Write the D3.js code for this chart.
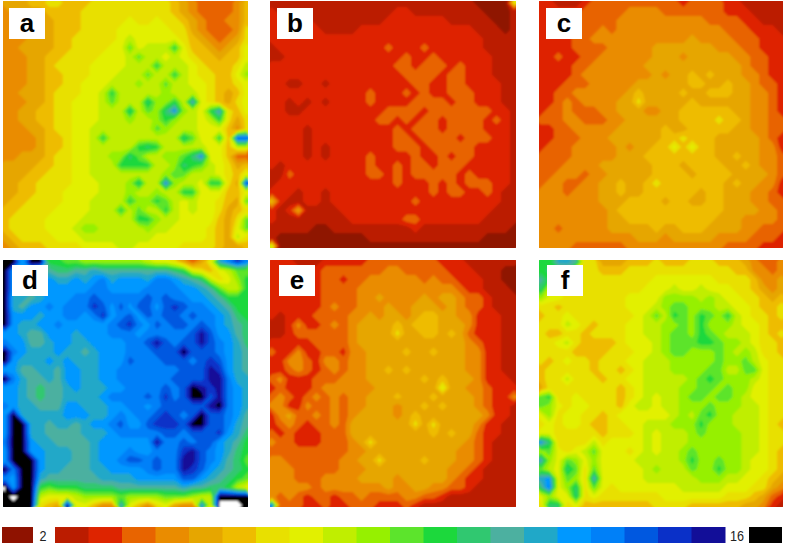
<!DOCTYPE html>
<html>
<head>
<meta charset="utf-8">
<script src="https://cdn.jsdelivr.net/npm/d3@7"></script>
<style>
  html, body { margin: 0; background: #fff; }
  svg { display: block; }
</style>
</head>
<body>
<div id="chart"></div>
<script>
// Legend levels, dark red (below 2) through black (above 16), then white for empty cells
const levelColors = ["#8f1200", "#bb1c00", "#de2400", "#e86400", "#ea8c00", "#e6a600", "#eebc00", "#e8e000",
  "#e2f000", "#c0ee00", "#96f000", "#5ce42c", "#1cd83c", "#30c870", "#4cb0a0", "#20a8c8",
  "#0098ff", "#0080f8", "#0058e0", "#0a30c8", "#120e98", "#000000", "#ffffff"];
const panelLabels = ["a", "b", "c", "d", "e", "f"];
const legendLabels = ["2", "16"];

const mapA = [
[5,5,5,6,6,7,7,6,6,6,7,7,7,7,7,7,7,7,7,6,5,4,3,3,3,3,4,6],
[4,5,5,5,5,6,6,6,6,7,7,7,7,7,7,7,7,7,7,6,5,4,3,3,3,3,4,6],
[4,4,5,5,5,5,6,6,6,7,7,7,7,7,8,7,7,8,7,7,6,5,4,3,3,4,4,6],
[4,4,4,5,5,5,6,6,6,7,7,7,7,8,8,8,8,8,8,7,7,5,4,3,3,3,4,7],
[4,4,4,5,5,5,6,6,7,7,7,7,7,8,9,8,8,8,8,8,7,6,5,4,3,4,5,7],
[4,4,5,5,5,5,6,6,7,7,7,7,8,8,11,8,9,9,9,12,8,6,6,5,4,5,6,8],
[4,4,4,5,5,6,6,7,7,7,7,8,8,8,9,11,9,9,8,9,8,7,6,6,5,6,6,8],
[4,4,4,5,5,6,7,7,7,7,8,8,8,8,9,9,9,12,9,9,9,8,7,6,6,6,7,9],
[4,4,4,5,5,6,6,7,7,7,8,8,8,9,9,9,11,9,9,12,9,8,7,7,6,6,8,10],
[4,4,4,5,5,6,6,7,7,8,8,8,9,9,9,10,9,9,11,9,9,8,8,7,6,6,7,8],
[4,4,5,5,5,6,7,7,7,8,8,9,12,9,9,9,9,9,10,9,9,9,8,7,6,5,6,8],
[4,4,4,5,5,6,7,7,8,8,8,9,11,9,9,9,13,10,10,12,9,15,8,7,6,5,7,8],
[4,4,5,5,6,6,7,7,8,8,8,9,9,9,13,9,11,10,13,16,10,9,8,12,15,7,6,8],
[4,4,5,5,6,6,7,7,8,8,8,9,9,9,10,9,9,10,12,10,9,9,8,9,12,7,5,7],
[4,4,4,5,5,6,7,7,8,8,9,9,9,9,9,9,9,11,10,9,9,9,8,8,8,6,4,7],
[4,4,4,4,5,6,6,7,8,8,9,12,9,9,9,9,9,9,9,9,13,11,8,8,12,6,18,18],
[4,4,4,4,5,6,6,7,8,8,9,9,9,9,9,12,13,12,9,9,9,9,9,8,8,6,9,9],
[4,4,5,5,5,6,7,7,8,8,9,9,10,10,13,11,9,9,10,10,11,13,16,8,8,6,3,3],
[5,5,5,5,6,6,7,7,8,8,9,9,9,12,12,12,12,9,9,10,13,12,11,9,8,7,5,6],
[5,5,5,6,6,7,7,7,8,8,9,9,9,9,9,9,9,9,10,11,11,9,9,9,8,7,6,8],
[5,5,6,6,7,7,7,7,8,8,8,9,9,9,10,13,9,9,16,10,9,9,8,12,12,7,5,19],
[5,5,6,6,7,7,7,8,8,8,8,9,9,9,10,9,9,10,9,9,12,12,8,8,8,6,6,8],
[5,6,6,7,7,7,7,8,8,8,9,9,9,9,12,10,10,12,11,9,8,9,8,8,7,6,5,11],
[6,6,7,7,7,7,8,8,8,8,9,9,9,12,9,11,9,9,12,9,8,9,8,8,7,5,6,7],
[6,7,7,7,7,8,8,8,8,9,9,9,9,9,9,12,12,10,9,9,8,8,8,8,6,5,7,11],
[6,7,7,7,7,8,8,8,9,10,10,9,9,9,9,9,10,9,9,8,8,8,8,7,6,5,8,11],
[5,6,7,7,7,7,8,8,8,9,9,9,9,9,9,9,9,8,8,8,8,8,8,7,6,5,9,7],
[4,5,6,6,6,7,7,7,7,8,8,8,8,9,9,8,8,8,8,8,7,7,7,7,6,5,5,6]
];
const mapB = [
[1,1,1,1,1,1,1,1,1,1,1,1,1,1,1,1,1,1,1,1,1,1,1,0,0,0,0,8],
[2,1,1,1,1,1,1,1,1,1,1,1,1,1,2,2,1,1,1,1,1,1,1,1,0,0,0,1],
[2,2,2,2,2,1,1,1,1,1,1,1,1,2,2,2,2,2,2,2,1,1,1,1,1,0,0,1],
[2,2,2,2,2,2,1,1,1,1,2,2,2,2,2,2,2,2,2,2,2,2,2,1,1,1,0,1],
[2,2,2,2,2,2,2,2,2,2,2,2,2,2,2,2,2,2,2,2,2,2,2,2,1,1,1,1],
[1,2,2,2,2,2,2,2,2,2,2,2,2,3,2,2,2,3,2,2,2,2,2,2,1,1,1,1],
[1,1,2,2,2,2,2,2,2,2,2,2,2,2,2,3,2,2,3,2,2,2,2,2,2,1,1,1],
[2,2,2,2,2,2,2,2,2,2,2,2,2,2,3,3,2,3,3,3,2,3,2,2,2,1,1,1],
[2,2,2,2,2,2,2,2,2,2,2,2,2,2,2,3,3,3,3,2,3,3,2,2,2,1,1,1],
[2,2,1,1,2,2,1,2,2,2,2,2,2,2,2,2,3,3,2,2,3,3,2,2,2,2,1,1],
[2,2,2,2,2,2,2,2,2,2,2,3,2,2,2,3,2,3,2,2,3,3,3,2,2,2,1,1],
[2,2,1,2,1,2,1,2,2,2,2,3,2,2,2,2,3,3,3,3,2,3,3,2,2,2,1,1],
[2,2,1,1,2,2,2,2,2,2,2,2,2,3,3,3,3,2,3,3,3,3,3,3,3,2,2,1],
[2,2,2,2,2,2,2,2,2,2,2,2,3,3,2,3,2,3,3,2,3,3,3,3,2,3,2,1],
[2,2,2,2,1,2,2,2,2,2,2,2,2,2,3,2,3,3,3,2,3,3,3,3,2,2,2,1],
[2,2,2,2,1,2,2,2,2,2,2,2,2,2,3,3,2,3,3,3,3,2,3,3,3,2,2,1],
[2,2,2,2,1,2,1,2,2,2,2,2,2,2,3,3,3,2,3,3,3,3,3,2,2,2,2,1],
[2,2,2,2,1,2,1,2,2,2,2,3,2,2,2,2,3,2,2,3,2,3,3,2,2,2,2,1],
[2,1,2,2,2,2,2,2,2,2,2,3,2,2,3,2,3,3,2,3,3,3,2,2,2,2,2,1],
[1,1,3,2,2,2,2,2,2,2,2,3,3,2,3,2,3,3,3,3,3,2,3,2,2,2,2,1],
[1,2,2,2,2,2,2,2,2,2,2,2,2,2,3,2,2,2,3,2,3,2,3,3,3,2,2,1],
[2,2,2,1,2,2,1,2,2,2,2,2,2,2,2,2,2,2,3,2,3,3,2,2,3,2,1,1],
[6,2,1,1,2,2,1,2,2,2,2,2,2,2,2,2,3,2,2,2,2,2,2,2,2,2,1,1],
[2,1,2,5,1,1,1,1,2,2,2,2,2,2,2,2,2,2,2,2,2,2,2,2,2,1,1,1],
[2,1,1,1,1,1,1,1,1,2,2,2,2,2,2,3,3,2,2,2,2,2,2,2,1,1,1,1],
[1,1,1,1,1,0,0,1,1,1,1,1,1,1,1,1,2,1,1,1,1,1,1,1,1,1,1,0],
[1,0,0,0,0,0,0,0,0,0,0,1,1,1,1,1,1,1,1,1,1,1,1,1,0,0,0,0],
[9,0,0,0,0,0,0,0,0,0,0,0,0,0,0,0,0,0,0,0,0,0,0,0,0,0,0,0]
];
const mapC = [
[2,2,1,1,1,2,3,3,3,3,3,3,3,3,3,3,2,3,3,3,3,2,2,1,1,1,1,1],
[2,2,2,2,2,3,3,3,3,3,4,4,4,4,3,3,3,3,3,3,3,2,2,2,1,1,1,1],
[2,2,2,3,3,3,3,3,3,4,4,4,4,4,4,4,4,4,4,3,3,3,3,2,2,1,1,1],
[2,2,2,3,3,3,3,4,3,4,4,4,4,4,4,4,4,4,4,4,4,3,3,3,2,2,2,1],
[2,2,2,2,3,3,4,4,4,4,4,4,4,4,4,4,4,5,4,4,4,4,3,3,3,2,2,2],
[2,2,2,2,3,3,3,3,4,4,4,4,4,5,5,5,5,5,5,5,4,4,4,3,3,2,2,2],
[2,2,3,2,2,3,3,4,4,4,4,4,4,5,5,5,4,5,5,5,5,5,4,4,3,3,2,2],
[2,2,2,2,3,3,4,4,4,4,4,4,5,5,5,5,5,5,5,5,5,5,5,4,3,3,2,2],
[2,2,2,2,3,4,4,4,4,4,4,4,4,5,4,5,5,6,5,6,5,5,5,4,4,3,2,2],
[2,2,2,3,3,3,4,4,4,4,4,5,5,5,5,5,5,6,6,5,5,6,5,5,4,3,3,2],
[2,2,3,3,4,4,4,4,4,4,5,6,5,5,5,5,6,5,5,6,6,6,5,5,4,4,3,2],
[2,2,3,4,3,4,4,4,4,5,5,7,5,5,5,5,5,6,5,5,5,5,5,5,4,4,3,2],
[2,3,3,4,3,3,3,4,4,5,5,5,4,4,5,5,6,6,6,6,6,6,5,5,4,4,3,2],
[3,3,3,4,4,3,3,3,4,4,5,5,5,5,5,5,6,6,6,6,7,6,6,5,4,4,3,3],
[2,2,3,3,4,4,4,4,4,5,5,5,5,5,6,5,5,6,6,6,6,6,5,5,4,4,3,3],
[2,2,3,3,3,4,4,4,5,5,5,5,5,5,6,6,7,6,6,6,5,5,5,5,5,4,3,2],
[2,3,3,3,4,4,4,4,4,5,4,5,5,6,6,8,6,8,6,6,5,5,5,5,5,4,4,2],
[3,3,3,3,4,4,4,4,4,5,5,5,6,6,6,6,6,6,6,6,5,5,6,5,5,4,4,3],
[3,3,3,4,4,4,4,5,5,5,5,5,5,6,6,6,5,6,6,6,6,5,5,6,5,4,4,3],
[3,3,4,4,4,3,4,4,5,5,5,5,5,6,6,6,6,5,6,6,6,6,5,5,5,5,4,3],
[3,4,4,3,3,4,4,5,5,6,5,5,6,7,6,6,6,6,6,6,6,5,6,5,5,4,4,2],
[4,4,4,3,4,4,4,5,5,6,5,5,6,6,6,6,6,6,5,6,6,5,5,5,4,4,3,2],
[4,4,4,4,4,4,4,5,5,5,6,6,6,6,5,6,6,5,5,6,6,5,5,5,4,4,3,3],
[4,4,4,4,4,4,4,4,5,6,6,6,6,6,6,6,6,6,6,6,6,5,5,5,5,4,4,3],
[4,4,4,4,4,4,4,4,5,5,6,6,6,6,6,6,6,6,6,6,5,5,5,4,4,4,4,3],
[4,4,3,4,4,4,4,4,5,5,5,5,5,6,5,5,6,6,6,5,5,5,5,4,4,3,3,3],
[4,4,4,4,4,4,4,4,4,4,4,5,5,5,4,5,5,5,5,5,4,4,4,4,3,3,3,2],
[4,4,4,4,3,3,3,3,3,3,4,4,4,4,4,4,4,4,4,4,4,3,3,3,3,2,2,2]
];
const mapD = [
[21,21,16,21,21,12,12,11,11,10,10,10,10,10,10,10,9,8,8,7,5,3,5,8,15,17,19,17],
[21,16,16,16,14,14,13,13,14,14,15,14,14,14,14,14,14,14,14,13,12,8,7,6,8,9,11,11],
[21,16,16,16,16,16,15,15,16,15,16,17,15,16,16,16,15,17,17,16,15,14,13,9,7,8,10,12],
[21,16,15,15,16,16,16,16,16,16,17,17,16,16,16,16,17,17,17,17,16,16,15,14,11,9,9,12],
[21,15,15,14,15,16,16,16,17,17,18,17,17,17,17,17,18,17,18,17,17,16,16,15,14,12,12,12],
[21,15,14,16,16,17,16,17,17,17,19,18,16,18,16,18,18,16,18,19,18,17,17,16,15,14,12,12],
[21,16,16,16,15,16,16,17,17,16,17,19,16,17,18,16,18,17,18,18,17,18,17,17,16,15,13,12],
[21,16,15,15,16,16,17,16,16,16,16,16,17,18,19,17,16,18,17,18,18,17,18,17,16,15,14,13],
[16,16,15,14,14,16,16,16,15,16,16,16,17,17,17,16,17,17,17,17,17,18,20,18,16,16,14,13],
[17,16,16,14,14,15,16,16,15,15,16,16,16,16,17,17,18,20,18,17,18,18,20,18,17,16,15,13],
[21,17,16,15,15,15,16,15,15,14,15,16,16,16,17,17,17,18,18,18,21,18,18,18,17,16,15,14],
[21,16,15,15,15,16,15,16,15,15,15,16,16,16,18,17,17,17,18,18,18,17,18,19,18,16,15,14],
[16,16,14,14,15,15,14,16,16,15,15,16,16,17,17,17,17,17,17,17,18,18,18,20,19,16,15,14],
[21,17,15,14,14,15,14,16,16,15,15,16,16,17,17,17,17,17,17,18,18,18,18,20,20,17,15,15],
[16,16,15,14,13,14,14,15,16,15,15,15,16,16,17,17,17,17,18,17,18,21,20,19,20,17,16,15],
[16,16,15,14,13,14,14,15,15,15,15,16,17,17,17,17,18,17,19,17,18,21,21,18,20,17,16,15],
[17,16,15,15,14,14,14,16,16,15,15,15,16,16,17,17,16,17,18,18,18,18,18,20,21,17,16,15],
[16,21,15,15,15,15,15,16,16,16,15,15,16,17,16,17,17,18,19,18,17,18,21,18,18,17,16,14],
[16,21,21,15,15,14,15,15,14,15,16,16,17,18,16,16,18,19,19,19,18,21,21,18,18,17,15,14],
[16,21,21,15,15,14,14,14,14,15,15,15,16,17,17,17,17,17,18,18,17,18,18,18,19,16,15,13],
[17,21,21,16,15,15,14,14,14,14,15,16,16,16,16,16,16,20,17,17,18,17,18,18,16,15,14,12],
[16,21,21,16,16,15,15,15,14,14,15,16,16,16,17,16,16,17,17,17,19,20,18,17,16,15,13,12],
[16,21,21,21,16,15,15,15,14,14,15,16,16,17,18,18,17,18,17,17,20,20,18,17,16,14,13,11],
[21,17,21,21,16,15,15,14,14,14,15,15,16,16,16,16,17,18,17,17,20,19,18,16,15,14,13,12],
[17,16,21,21,15,14,14,14,14,14,14,15,15,15,15,16,16,16,16,16,18,18,16,15,14,13,12,11],
[22,16,21,21,12,11,12,12,12,13,13,13,13,14,14,14,14,14,14,14,15,14,14,13,13,12,9,8],
[21,22,21,21,9,8,8,8,9,10,10,10,10,11,10,10,10,10,11,11,11,10,9,9,21,21,21,21],
[21,21,21,21,7,6,5,21,8,8,6,4,4,15,8,6,4,7,8,5,4,4,16,8,22,22,22,21]
];
const mapE = [
[2,2,2,1,1,1,2,2,2,2,2,3,3,3,3,3,3,3,3,2,2,2,1,1,1,1,1,1],
[2,2,2,2,2,2,3,3,3,3,3,3,3,4,4,3,3,3,3,3,2,2,2,1,1,1,0,0],
[2,2,2,2,2,2,3,3,2,3,3,4,4,4,4,4,4,3,4,3,3,2,2,2,1,1,0,0],
[2,2,2,2,2,2,3,3,3,3,4,4,4,4,4,4,4,4,4,4,4,3,2,2,1,1,1,0],
[2,2,2,2,2,2,3,3,3,3,4,4,5,4,4,4,4,5,4,5,5,4,3,3,2,1,1,1],
[2,2,2,2,2,2,3,4,3,3,4,4,4,5,4,4,5,5,5,4,5,4,3,3,2,1,1,1],
[2,1,2,2,2,3,3,3,3,4,4,5,4,5,5,4,5,6,6,5,5,4,4,2,2,2,1,1],
[1,1,2,4,2,2,3,4,3,4,5,5,5,5,6,5,6,6,6,5,5,5,4,2,2,2,1,1],
[1,1,2,3,3,3,3,3,3,4,5,5,5,5,7,5,5,6,6,5,6,5,3,2,2,2,1,1],
[2,2,2,2,2,3,3,3,3,4,5,5,5,5,5,5,5,5,5,5,5,5,4,3,2,2,1,1],
[3,2,2,4,2,2,3,3,2,4,4,5,5,5,5,6,5,5,6,5,5,5,4,4,2,2,1,1],
[2,2,4,4,3,2,4,4,3,4,4,5,5,5,5,5,5,5,5,5,5,5,4,4,2,2,1,1],
[2,2,3,4,3,2,3,4,3,4,4,5,5,6,5,6,5,5,5,5,5,5,4,4,2,2,1,1],
[3,4,2,2,2,3,3,3,4,4,4,5,5,5,5,5,5,6,5,6,5,5,5,4,2,2,2,1],
[2,3,2,2,2,3,4,4,4,4,4,4,5,5,5,5,5,5,5,8,5,5,4,4,3,2,2,2],
[3,4,3,2,3,4,3,4,3,4,4,5,5,5,6,5,5,5,6,5,5,5,5,4,3,2,2,4],
[4,4,2,2,4,3,3,4,3,4,4,5,5,5,4,5,5,6,5,6,5,5,5,4,3,2,2,1],
[2,4,5,3,3,4,3,4,3,4,5,5,5,5,4,5,6,5,5,5,5,5,5,5,4,2,2,1],
[2,3,4,3,2,3,3,4,3,5,5,5,5,5,5,5,7,5,7,5,5,5,5,4,2,2,1,1],
[3,2,3,2,2,2,3,3,3,5,5,5,5,5,5,5,5,5,6,5,6,5,5,3,2,2,1,1],
[4,3,3,2,2,2,3,3,3,4,5,7,5,5,5,5,5,5,5,5,5,5,4,3,2,1,1,1],
[3,3,3,3,3,3,3,3,3,4,4,5,5,5,5,5,5,5,5,5,5,4,4,3,2,1,1,1],
[4,4,3,3,3,3,3,3,4,4,5,5,7,5,5,5,5,6,5,5,5,4,4,3,2,1,1,1],
[4,4,4,3,3,3,3,3,4,4,4,5,5,5,5,5,5,5,5,5,4,4,3,2,1,1,1,1],
[4,4,4,3,3,3,4,4,4,4,5,5,5,5,4,5,5,5,5,5,4,3,2,2,1,1,1,1],
[4,4,4,4,4,3,4,4,4,4,4,4,4,5,4,4,5,5,4,4,3,3,2,1,1,1,1,1],
[4,3,4,3,2,3,3,2,3,3,4,3,3,3,3,4,4,3,3,2,1,1,1,1,1,1,1,1],
[17,3,3,3,2,2,3,2,2,3,3,3,2,2,2,3,2,1,1,1,1,1,1,1,1,1,1,1]
];
const mapF = [
[12,12,15,15,14,7,7,5,5,5,6,6,6,7,6,6,6,7,7,7,6,6,6,5,4,3,3,4],
[12,13,12,13,7,7,7,6,6,6,7,7,7,7,7,7,7,7,7,7,7,7,6,6,4,4,3,4],
[14,12,8,7,7,7,7,7,7,7,7,7,7,8,8,8,8,8,8,8,7,7,7,7,6,4,4,5],
[13,9,8,7,7,7,7,7,7,7,7,7,8,8,8,9,8,8,9,8,8,8,7,7,6,5,4,5],
[10,8,8,7,7,7,7,7,7,7,8,8,8,8,10,10,10,10,9,10,9,8,8,7,7,6,5,6],
[7,7,6,7,7,7,7,7,7,7,8,8,8,9,10,11,11,10,10,10,9,9,8,8,7,6,6,7],
[6,7,7,8,7,7,7,7,7,7,7,8,9,11,9,12,11,10,12,11,10,12,9,8,7,7,6,7],
[7,7,7,9,8,7,6,7,7,7,8,8,9,9,10,10,11,10,12,10,10,10,9,8,8,7,6,6],
[7,6,6,7,7,6,7,7,7,7,8,8,9,9,10,11,11,10,12,11,10,9,9,9,8,7,6,7],
[7,7,8,9,7,6,6,6,6,7,8,8,8,9,10,11,11,11,12,12,11,10,10,9,8,7,7,6],
[7,7,7,7,6,6,6,6,7,7,7,8,8,9,10,11,11,10,10,10,11,10,9,10,9,7,7,6],
[7,6,7,8,7,7,6,7,7,7,8,8,9,9,9,10,10,10,10,10,11,10,10,11,9,8,7,7],
[6,7,7,7,7,7,6,7,7,6,7,8,9,9,9,10,10,10,10,11,11,9,9,11,11,8,7,7],
[6,7,7,9,7,7,7,6,7,7,8,8,9,9,9,9,9,10,11,12,11,10,10,10,9,8,7,7],
[5,7,7,7,7,7,7,7,7,6,7,8,9,9,9,9,10,10,11,11,10,11,10,10,8,8,7,7],
[11,12,7,7,8,7,7,7,7,6,7,8,9,8,9,9,10,11,11,10,11,11,10,9,8,8,7,7],
[11,10,8,7,8,8,7,7,7,6,8,9,9,8,9,9,10,10,10,11,10,10,10,9,9,8,7,7],
[8,10,7,8,8,7,7,6,7,8,8,8,8,8,8,9,10,9,11,12,10,10,9,9,9,8,7,7],
[7,8,7,8,8,7,6,6,7,7,8,8,9,9,9,10,10,10,12,10,10,10,9,9,9,8,7,6],
[8,8,7,7,7,7,7,6,7,7,7,8,9,8,9,9,9,10,11,10,10,10,10,9,9,8,7,7],
[16,13,7,7,7,7,9,7,8,8,8,8,9,8,9,9,9,10,10,10,10,10,10,9,9,8,7,7],
[10,11,8,7,8,9,11,8,8,8,7,8,9,8,9,9,10,11,10,10,10,10,10,9,9,8,7,6],
[15,10,8,11,10,8,10,8,8,8,8,9,9,9,9,9,10,12,10,10,11,10,10,9,8,8,7,6],
[11,9,8,13,11,7,11,8,8,8,8,8,9,10,9,9,9,11,10,10,12,10,10,9,8,8,7,6],
[15,16,8,11,10,7,15,8,8,8,8,8,9,9,9,9,9,9,10,10,10,9,9,8,8,7,6,5],
[13,17,8,10,13,7,11,8,7,8,8,8,8,8,8,8,9,9,9,9,9,8,8,8,7,7,5,4],
[8,10,8,8,13,7,8,7,7,7,7,7,7,7,8,8,8,8,8,8,8,7,7,7,6,5,3,2],
[7,13,13,7,8,6,6,6,6,6,6,6,6,7,7,7,7,6,6,6,6,6,6,5,5,4,2,1]
];
const panelMaps = [mapA, mapB, mapC, mapD, mapE, mapF];

const width = 787;
const height = 546;

const svg = d3.select("#chart")
  .append("svg")
  .attr("width", width)
  .attr("height", height)
  .attr("viewBox", `0 0 ${width} ${height}`);

const defs = svg.append("defs");

// Reference image is soft, so blur the bands a little
defs.append("filter")
  .attr("id", "soft")
  .append("feGaussianBlur")
  .attr("stdDeviation", 1);

// Panel layout
const cols = d3.scaleOrdinal().domain([0, 1, 2]).range([{ x: 3, w: 245 }, { x: 270, w: 246 }, { x: 539, w: 244 }]);
const rows = d3.scaleOrdinal().domain([0, 1]).range([1, 260]);
const panelHeight = 247;
const grid = 28;
const bleed = 3; // drawn past the clip so the blur does not round the corners
const labelOffset = [[6, 7], [7, 7], [7, 7], [9, 5], [9, 5], [8, 5]];

const contours = d3.contours()
  .size([grid, grid])
  .thresholds(levelColors.map((c, i) => i - 0.5));

const color = d3.scaleOrdinal().domain(d3.range(levelColors.length)).range(levelColors);

panelMaps.forEach((map, idx) => {
  const col = cols(idx % 3);
  const top = rows(Math.floor(idx / 3));
  const g = svg.append("g").attr("transform", `translate(${col.x}, ${top})`);

  defs.append("clipPath")
    .attr("id", `clip-${idx}`)
    .append("rect")
    .attr("width", col.w)
    .attr("height", panelHeight);

  const x = d3.scaleLinear().domain([0, grid]).range([-bleed, col.w + bleed]);
  const y = d3.scaleLinear().domain([0, grid]).range([-bleed, panelHeight + bleed]);
  const path = d3.geoPath(d3.geoTransform({
    point(px, py) { this.stream.point(x(px), y(py)); }
  }));

  g.append("g")
    .attr("clip-path", `url(#clip-${idx})`)
    .append("g")
    .attr("filter", "url(#soft)")
    .selectAll("path")
    .data(contours(map.flat()))
    .enter()
    .append("path")
    .attr("d", path)
    .attr("fill", (d, i) => color(i));

  const [lx, ly] = labelOffset[idx];
  g.append("rect")
    .attr("x", lx)
    .attr("y", ly)
    .attr("width", 36)
    .attr("height", 31)
    .attr("fill", "#fff");

  g.append("text")
    .attr("x", lx + 18)
    .attr("y", ly + 24)
    .attr("text-anchor", "middle")
    .attr("font-family", "Liberation Sans, Arial, sans-serif")
    .attr("font-weight", "bold")
    .attr("font-size", 26)
    .attr("fill", "#000")
    .text(panelLabels[idx]);
});

// Legend
const legend = svg.append("g").attr("transform", "translate(0, 527)");
const legendX = d3.scaleBand().domain(d3.range(1, 21)).range([55, 725]);

legend.selectAll("rect.band")
  .data(d3.range(1, 21))
  .enter()
  .append("rect")
  .attr("class", "band")
  .attr("x", d => legendX(d))
  .attr("y", 0)
  .attr("width", legendX.bandwidth() + 0.5)
  .attr("height", 16)
  .attr("fill", d => color(d));

legend.append("rect").attr("x", 2).attr("width", 31).attr("height", 16).attr("fill", color(0));
legend.append("rect").attr("x", 749).attr("width", 33).attr("height", 16).attr("fill", color(21));

legend.selectAll("text")
  .data(legendLabels)
  .enter()
  .append("text")
  .attr("x", (d, i) => i === 0 ? 43 : 737)
  .attr("y", 14)
  .attr("text-anchor", "middle")
  .attr("font-family", "Liberation Sans, Arial, sans-serif")
  .attr("font-size", 15)
  .attr("textLength", (d, i) => i === 0 ? 7 : 14)
  .attr("lengthAdjust", "spacingAndGlyphs")
  .attr("fill", "#222")
  .text(d => d);
</script>
</body>
</html>
